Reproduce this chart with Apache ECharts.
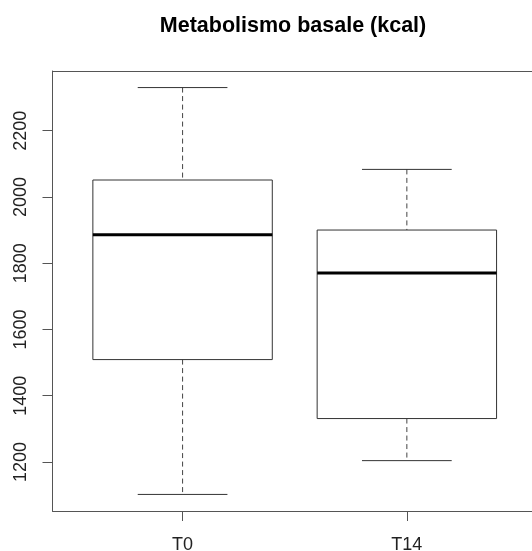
<!DOCTYPE html>
<html>
<head>
<meta charset="utf-8">
<script src="https://cdn.jsdelivr.net/npm/echarts@6/dist/echarts.min.js"></script>
<style>
html,body{margin:0;padding:0;background:#fff;}
#chart{width:532px;height:551px;}
</style>
</head>
<body>
<div id="chart"></div>
<script>
const titleText = 'Metabolismo basale (kcal)';
const categories = ['T0', 'T14'];
const whiskerLow = [1102, 1204];
const q1 = [1509, 1331];
const median = [1886, 1770];
const q3 = [2051, 1900];
const whiskerHigh = [2330, 2083];
const yTicks = [1200, 1400, 1600, 1800, 2000, 2200];

const xPos = categories.map((c, i) => i + 1);
const seriesData = categories.map((c, i) => [xPos[i], whiskerLow[i], q1[i], median[i], q3[i], whiskerHigh[i]]);

const lineColor = '#333';
const frameColor = '#555';
const font = 'Liberation Sans, Arial, sans-serif';

function renderItem(params, api) {
  const x = api.value(0);
  const boxW = api.size([0.8, 0])[0];
  const capW = api.size([0.4, 0])[0];
  const pLow = api.coord([x, api.value(1)]);
  const pQ1 = api.coord([x, api.value(2)]);
  const pMed = api.coord([x, api.value(3)]);
  const pQ3 = api.coord([x, api.value(4)]);
  const pHigh = api.coord([x, api.value(5)]);
  const cx = pMed[0];
  const solid = {stroke: lineColor, lineWidth: 1, fill: null};
  const dashed = {stroke: '#444', lineWidth: 1, lineDash: [5, 3.5]};
  return {
    type: 'group',
    children: [
      {type: 'line', shape: {x1: cx, y1: pHigh[1], x2: cx, y2: pQ3[1]}, style: dashed},
      {type: 'line', shape: {x1: cx, y1: pQ1[1], x2: cx, y2: pLow[1]}, style: dashed},
      {type: 'line', shape: {x1: cx - capW / 2, y1: pHigh[1], x2: cx + capW / 2, y2: pHigh[1]}, style: solid},
      {type: 'line', shape: {x1: cx - capW / 2, y1: pLow[1], x2: cx + capW / 2, y2: pLow[1]}, style: solid},
      {type: 'rect', shape: {x: cx - boxW / 2, y: pQ3[1], width: boxW, height: pQ1[1] - pQ3[1]}, style: {stroke: lineColor, lineWidth: 1, fill: '#fff'}},
      {type: 'line', shape: {x1: cx - boxW / 2, y1: pMed[1], x2: cx + boxW / 2, y2: pMed[1]}, style: {stroke: '#000', lineWidth: 3}}
    ]
  };
}

const chart = echarts.init(document.getElementById('chart'));
chart.setOption({
  animation: false,
  backgroundColor: '#fff',
  title: {
    text: titleText,
    left: 293, textAlign: 'center',
    top: 15, padding: 0,
    textStyle: {fontFamily: font, fontWeight: 'bold', fontSize: 21.5, color: '#000'}
  },
  grid: {
    left: 52.5, right: 0, top: 71, bottom: 40,
    show: false,
    containLabel: false,
    outerBoundsMode: 'none'
  },
  xAxis: [{
    type: 'value', min: 0.42, max: 2.558,
    axisLine: {show: true, onZero: false, lineStyle: {color: frameColor, width: 1}},
    splitLine: {show: false},
    axisTick: {show: true, length: 10, customValues: xPos, lineStyle: {color: frameColor}},
    axisLabel: {
      show: true, customValues: xPos, margin: 25,
      formatter: v => categories[Math.round(v) - 1] || '',
      fontFamily: font, fontSize: 18, color: '#222'
    }
  }, {
    type: 'value', position: 'top', min: 0.42, max: 2.558,
    axisLine: {show: true, onZero: false, lineStyle: {color: frameColor, width: 1}},
    splitLine: {show: false}, axisTick: {show: false}, axisLabel: {show: false}
  }],
  yAxis: {
    type: 'value', min: 1052, max: 2380,
    axisLine: {show: true, onZero: false, lineStyle: {color: frameColor, width: 1}},
    splitLine: {show: false},
    axisTick: {show: true, length: 10, customValues: yTicks, lineStyle: {color: frameColor}},
    axisLabel: {
      show: true, customValues: yTicks, rotate: 90, margin: 22,
      formatter: v => String(v),
      fontFamily: font, fontSize: 18, color: '#222'
    }
  },
  series: [{
    type: 'custom',
    renderItem: renderItem,
    encode: {x: 0, y: [1, 2, 3, 4, 5]},
    data: seriesData,
    clip: false
  }]
});
</script>
</body>
</html>
